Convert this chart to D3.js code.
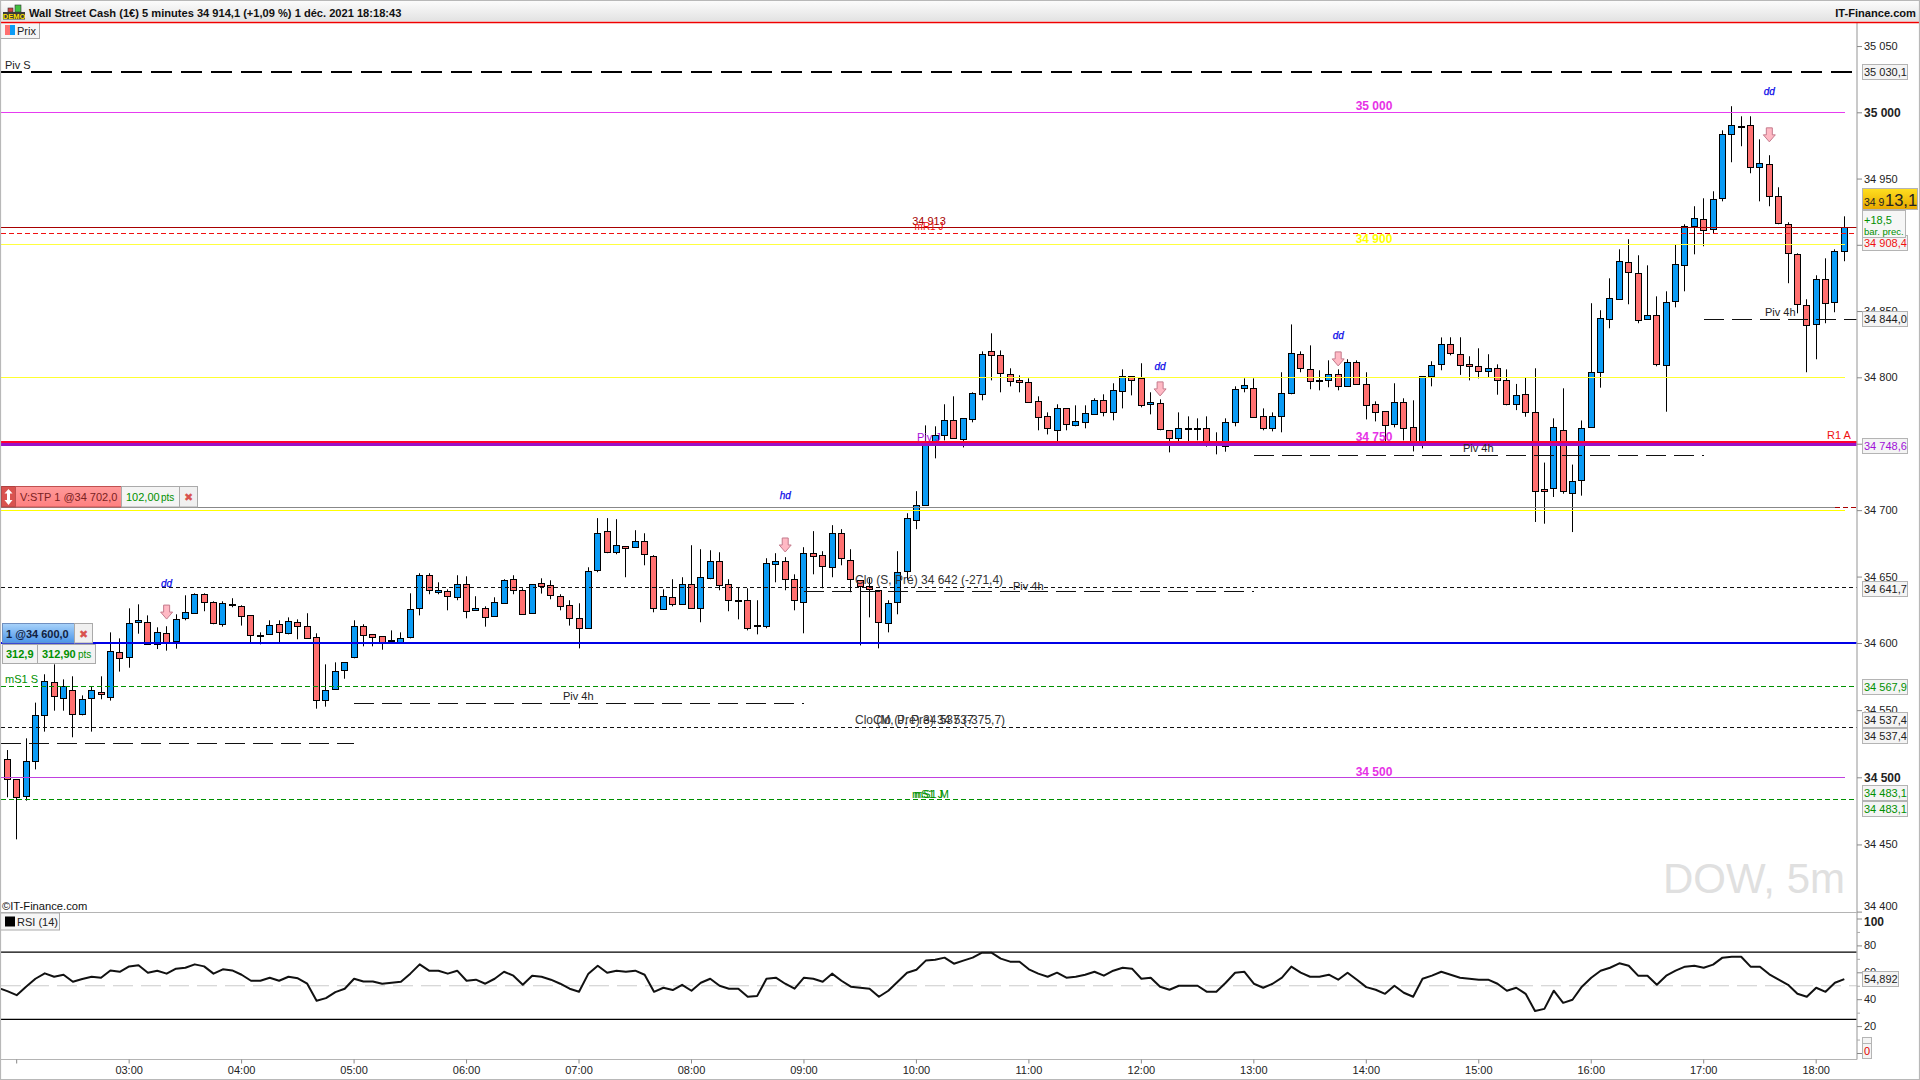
<!DOCTYPE html>
<html lang="fr">
<head>
<meta charset="utf-8">
<title>Wall Street Cash 5 minutes</title>
<script src="https://d3js.org/d3.v7.min.js"></script>
<style>
  body { margin: 0; background: #fff; }
  svg { display: block; }
  text { font-family: "Liberation Sans", Arial, sans-serif; font-size: 11px; fill: #222; }
</style>
</head>
<body>
<div id="chart"></div>
<script>
// candles, one every 5 minutes from 01:55 to 18:15
const open = [
  34513.4,34498.5,34486.1,34511.9,34546.1,34570.7,34558.8,34564.8,34546.9,34558.8,
  34563.3,34559.5,34593.1,34589.3,34615.6,34615.6,34599,34607.3,34601.3,34618.6,
  34622.4,34636.7,34630.6,34614.1,34629.1,34627.6,34620.8,34605.8,34606.5,34614.1,
  34607.3,34615.6,34612.6,34604.3,34557.3,34565.5,34579.6,34589.3,34612.6,34606.5,
  34605,34602,34600.5,34604.3,34626.1,34651,34638.2,34638.9,34634.4,34644.2,
  34624.6,34626.1,34620.1,34629.9,34648,34639.7,34622.4,34645,34643.5,34635.2,
  34628.4,34618.6,34611.1,34654.8,34684.2,34668.3,34672.8,34672.1,34676.6,34665.3,
  34625.4,34634.4,34629.1,34644.2,34626.1,34648.7,34661.5,34644.2,34632.2,34632.2,
  34613.3,34612.6,34659.3,34661.5,34648,34630.6,34667.6,34666.1,34657,34682.6,
  34662.3,34647.2,34642.7,34639.7,34614.8,34630.6,34654,34692.4,34703.5,34750.3,
  34756.3,34767.6,34753.3,34768.3,34787.2,34819.6,34816.6,34802.3,34797.7,34796.2,
  34781.9,34770.6,34760.1,34776.6,34763.8,34766.1,34772.1,34782.7,34773.6,34789.4,
  34800.8,34799.2,34779.7,34780.4,34760.1,34754,34762.1,34762.1,34761.6,34750.3,
  34748,34766.1,34791.7,34791.7,34770.6,34761.6,34770.6,34787.9,34817.3,34806,
  34797.7,34797.7,34802.3,34793.2,34811.3,34794.7,34779.7,34774.4,34764.6,34781.2,
  34762.3,34750.3,34800.8,34809.8,34824.9,34817.4,34809.8,34808.3,34804.5,34806.8,
  34797.7,34779.6,34787.2,34773.6,34716.2,34716.2,34760,34713.2,34722.3,34762.3,
  34803.8,34843.8,34858.9,34886.8,34878.5,34843.8,34846.8,34809.1,34857.4,34884.5,
  34914,34919.3,34911.7,34935.1,34983.4,34989.5,34990.2,34958.5,34960.8,34936.6,
  34915.5,34892.8,34854.3,34840,34874,34856.6,34895.1
];
const high = [
  34520.3,34498.5,34529,34555.6,34576.7,34584.1,34572.9,34575.2,34561,34567.5,
  34575.2,34608,34603.5,34626.1,34629.1,34620.8,34611.8,34612.6,34621.6,34635.9,
  34637.4,34637.4,34631.4,34631.4,34633.7,34628.4,34620.8,34608,34617.1,34617.1,
  34619.3,34617.8,34622.4,34607.3,34584.1,34585.6,34585.6,34617.1,34614.1,34606.5,
  34605,34609.5,34608,34637.4,34652.5,34652.5,34645.7,34640.4,34651,34650.2,
  34635.2,34627.6,34634.4,34648,34651,34641.2,34644.2,34648.7,34647.2,34636.7,
  34632.2,34629.9,34657,34694,34694,34693.2,34672.8,34684.9,34682.6,34666.1,
  34640.4,34648,34649.5,34673.6,34670.6,34669.8,34668.3,34648,34642,34641.2,
  34632.2,34663.8,34667.6,34664.6,34651.7,34672.1,34684.2,34669.1,34688.7,34685.7,
  34670.6,34647.2,34648.7,34639.7,34632.2,34669.1,34697.7,34714.3,34763.8,34763.1,
  34779.7,34785.7,34769.1,34788.7,34819.6,34833.2,34820.3,34806.8,34801.5,34799.2,
  34785.7,34773.6,34779.7,34776.6,34778.9,34778.9,34784.2,34787.2,34795.5,34806,
  34800.8,34810.6,34788.7,34783.4,34760.1,34773.6,34770.6,34769.1,34770.6,34758.6,
  34769.1,34793.2,34799.2,34799.2,34776.6,34773.6,34803.8,34839.9,34819.6,34824.1,
  34805.3,34812.8,34806,34813.6,34812.8,34803.8,34781.9,34774.4,34795.5,34784.2,
  34782.7,34800.8,34812.1,34830.1,34830.2,34830.2,34815.9,34821.9,34817.4,34809.8,
  34806,34795,34800,34806.8,34735.8,34769.1,34791.7,34734.3,34767.5,34855.9,
  34850.6,34874.7,34896.6,34904.2,34892.1,34884.5,34861.1,34864.9,34900.4,34915.5,
  34929.1,34935.1,34940.4,34986.4,35004.6,34997,34997,34979.6,34967.6,34943.4,
  34917,34893.6,34858.9,34877,34889.8,34896.6,34921.5
];
const low = [
  34485.1,34453.8,34482.6,34505.9,34534,34549.6,34549.6,34529.8,34546.1,34534,
  34558.1,34557.1,34578.7,34581.6,34607,34599,34595.5,34594.3,34595.8,34617.1,
  34622.4,34623.9,34614.1,34612.3,34626.9,34613.1,34600.5,34599,34606.5,34600.5,
  34606.5,34602.8,34603.5,34551.1,34552.6,34565.5,34573.4,34588.6,34597.5,34597.5,
  34595,34599.8,34599.8,34603.5,34620.8,34636.7,34636.7,34624.6,34632.2,34618.6,
  34624.6,34612.3,34620.1,34629.9,34636.7,34621.6,34622.4,34637.2,34632.9,34624.6,
  34613.1,34596,34611.1,34653.3,34667.6,34666.8,34649.5,34672.1,34658.5,34623.1,
  34625.4,34627.6,34629.1,34626.1,34615.6,34648,34639.7,34623.9,34617.8,34609.5,
  34606.5,34611.1,34645.7,34639.7,34624.6,34607.3,34651.7,34641.2,34649.5,34658.5,
  34638.2,34598.2,34619.3,34596,34608,34621.6,34647.5,34685.7,34703.5,34739,
  34752.5,34754,34747.2,34766.1,34782.7,34797.7,34788.7,34793.2,34788.7,34781.2,
  34760.1,34757,34750.3,34760.1,34763.1,34761.6,34772.1,34770.6,34767.6,34776.6,
  34786.4,34777.4,34772.1,34760.1,34743.5,34750.3,34750.3,34752.5,34747.8,34742,
  34744,34763.1,34788.7,34769.9,34760.1,34759.3,34758.6,34787.2,34803.8,34791,
  34790.2,34792.5,34790.2,34793.2,34794.7,34768.3,34766.8,34751,34762.3,34752.5,
  34744.2,34746.5,34793.2,34805.3,34816.6,34801.8,34797.7,34799.2,34800,34786.9,
  34778.9,34775.3,34770.3,34691.1,34689.8,34709.9,34712.4,34683.5,34710.9,34762.3,
  34792.2,34837,34858.9,34855.1,34840.8,34843.8,34808.3,34774.1,34852.8,34864.9,
  34892.8,34898.9,34908.7,34932.8,34962.3,34974.4,34954,34932.8,34929.1,34915.5,
  34871,34848.3,34803.8,34813.6,34840.8,34849.1,34887.6
];
const close = [
  34498.5,34485.1,34511.9,34546.1,34571.5,34560.3,34567.7,34546.9,34558.1,34564.8,
  34561.8,34593.8,34588.6,34614.8,34617.1,34599,34608,34600.5,34617.8,34623.1,
  34636.7,34630.6,34614.6,34629.9,34628.4,34620.1,34605.8,34605,34613.3,34608,
  34616.3,34612.6,34603.5,34557.3,34564.8,34578.9,34585.6,34612.6,34605.8,34604.3,
  34600.5,34601.3,34603.5,34625.4,34651,34639.7,34639.7,34635.2,34644.2,34623.9,
  34626.1,34619.3,34630.6,34647.2,34639.7,34621.6,34644.2,34642.7,34635.9,34627.6,
  34618.6,34611.1,34654,34682.6,34668.3,34673.6,34671.3,34676.6,34666.8,34626.1,
  34635.2,34629.1,34644.2,34626.1,34649.5,34661.5,34643.5,34632.2,34632,34611.1,
  34612.6,34660,34661.5,34648,34632.2,34667.6,34665.3,34657.8,34682.6,34663.8,
  34648,34642.7,34640.4,34615.6,34629.9,34653.3,34694,34703.7,34750.3,34756.3,
  34767.6,34754,34769.1,34787.9,34817.3,34816.6,34803,34797,34796.2,34781.2,
  34769.9,34761.6,34776.6,34764.6,34766.8,34772.9,34782.7,34773.6,34790.2,34800.8,
  34797.7,34778.9,34781.2,34760.8,34754,34761.6,34761.6,34761.6,34748.8,34748.8,
  34766.1,34791,34794,34769.9,34761.6,34770.6,34787.9,34818.1,34806.8,34797,
  34797,34802.3,34793.2,34811.3,34794.7,34778.9,34773.6,34763.8,34781.2,34761.6,
  34750.3,34800.8,34809,34824.9,34818.1,34809.1,34808.3,34804.5,34806.8,34797.7,
  34779.6,34786.4,34773.6,34714,34714.7,34762.3,34714,34722.3,34761.5,34803.8,
  34844.5,34859.6,34887.6,34879.3,34843,34846.8,34809.8,34856.6,34885.3,34914,
  34920,34911,34934.4,34983.4,34990.2,34989.3,34958.5,34961.5,34936.6,34916.2,
  34893.6,34855.1,34839.2,34874,34855.9,34895.1,34913.2
];
// first value belongs to the bar just left of the window
const rsi = [
  48.5,
  46,43,49.3,55.2,59.2,56.7,58.2,53,55,56.7,56,61.4,60.4,64.4,65.2,59.7,61.2,59,62.7,63.4,
  65.9,64.4,59,62.2,61.4,58.2,53.7,53.7,56,53.7,56.7,55.5,51.5,38.8,40.8,45.3,47.8,55.2,53.2,53.2,
  51.5,52.2,53,59,65.9,61.2,61.2,59,61.2,53.7,54.5,51.5,55.2,60.4,57.5,50.7,57.5,56.7,54.5,51.5,
  47.8,45.5,59,64.9,59.7,61.2,60.4,61.2,58.2,45.5,48.5,46.8,50.7,46.3,52.2,55.2,50,47.8,47.8,41.8,
  42.3,55.2,56,51.5,47.8,56,55.2,53,59,53.7,49.3,48.5,47.8,41.8,46.3,53,59.7,61.9,68.7,69.4,
  70.9,66.4,68.7,70.9,74.6,74.6,70.2,67.9,67.9,62.2,59,56.7,59.7,56,56.7,58.2,60.4,57.5,61.2,63.4,
  62.7,55.2,56,49.3,47,50,50,50,45.5,45.5,52.2,59.7,60.4,51.5,48.5,51.5,56,64.2,59.7,56.7,
  56.7,58.2,54.5,59.7,54.5,49,47,44,50,44.8,41.8,55.2,57.5,60.4,58.2,56,55.2,54.5,54.5,51.5,
  46.3,48.5,44,31.3,32.8,46.3,37.3,39.6,49.3,56,61.2,63.4,66.7,64.9,57.5,57.5,50.7,57.5,61.2,64.2,
  64.9,63.4,65.7,70.9,71.6,71.6,64.2,64.2,58.5,54.5,50.7,44,41.8,48.5,45.5,52.2,54.9
];

const hourLabels = ["03:00","04:00","05:00","06:00","07:00","08:00","09:00","10:00","11:00","12:00","13:00","14:00","15:00","16:00","17:00","18:00"];
const priceTicks = [35050,35000,34950,34900,34850,34800,34750,34700,34650,34600,34550,34500,34450,34400];
const rsiTicks = [100,80,60,40,20,0];
const rsiMinorTicks = [90,70,50,30,10];

// levels
const pivS = 35030.1, resist1 = 34913, dashedRed = 34908.4, r1A = 34751.5, pivJ = 34749.3;
const stopLevel = 34702, cloS = 34641.7, entry = 34600, ms1S = 34567.9, cloM = 34537.4, ms1M = 34483.1;
const round500 = [35000, 34500];
const round100 = [34900, 34800, 34700];
const piv4hValues = [34525.3, 34555.1, 34638.7, 34741, 34844];
const piv4hBreaks = [37, 85, 133, 181];   // candle index of 05:00, 09:00, 13:00, 17:00
const rsiBands = [75, 25];

// pink arrows and their small tags
const signalIndex = [17, 83, 123, 142, 188];
const signalTips = [34618, 34668.5, 34786, 34808.6, 34977.7];
const signalLabels = ["dd", "hd", "dd", "dd", "dd"];
const signalLabelPrices = [34644.4, 34710.9, 34808, 34831.3, 35015.5];

const width = 1920, height = 1080;
const plotRight = 1857, lineRight = 1845;

const svg = d3.select("#chart").append("svg").attr("width", width).attr("height", height);
const defs = svg.append("defs");
function gradient(id, top, bottom) {
  const g = defs.append("linearGradient").attr("id", id).attr("x1", 0).attr("x2", 0).attr("y1", 0).attr("y2", 1);
  g.append("stop").attr("offset", "0%").attr("stop-color", top);
  g.append("stop").attr("offset", "100%").attr("stop-color", bottom);
}
gradient("barGrad", "#fdfdfd", "#e2e2e2");
gradient("yellowGrad", "#ffdf20", "#e8a800");
gradient("blueGrad", "#a9d3fa", "#4a94e8");
gradient("pinkGrad", "#ff9a9a", "#ff8080");

const fr = d3.formatLocale({ decimal: ",", thousands: " ", grouping: [3], currency: ["", "€"] });
const fmtInt = fr.format(",.0f"), fmt1 = fr.format(",.1f");

const x = d3.scaleLinear().domain([0, 196]).range([7.3, 1844.3]);
const y = d3.scaleLinear().domain([35000, 34800, 34600, 34500, 34400]).range([112.3, 377.3, 643, 777.3, 911.6]);
const yRsi = d3.scaleLinear().domain([0, 100]).range([1053, 918.5]);

// ---- candles
const candles = svg.append("g").selectAll("g").data(d3.range(open.length)).join("g")
  .attr("transform", i => `translate(${Math.floor(x(i)) + 0.5},0)`);
candles.append("line")
  .attr("y1", i => y(high[i])).attr("y2", i => y(low[i]))
  .attr("stroke", "#000").attr("stroke-width", 1);
candles.append("rect")
  .attr("x", -3).attr("width", 6)
  .attr("y", i => Math.round(y(Math.max(open[i], close[i]))) + 0.5)
  .attr("height", i => Math.max(1, Math.round(Math.abs(y(open[i]) - y(close[i])))))
  .attr("fill", i => close[i] >= open[i] ? "#0a9bf5" : "#ff7070")
  .attr("stroke", "#000").attr("stroke-width", 1)
  .attr("shape-rendering", "crispEdges");

// ---- horizontal levels
function level(value, color, sw, dash, x1, x2) {
  // keep the thin lines on the pixel grid, as in the original
  const py = sw % 2 ? Math.floor(y(value)) + 0.5 : Math.round(y(value));
  svg.append("line").attr("x1", x1 === undefined ? 1 : x1).attr("x2", x2 === undefined ? plotRight : x2)
    .attr("y1", py).attr("y2", py)
    .attr("stroke", color).attr("stroke-width", sw)
    .attr("stroke-dasharray", dash || null)
    .attr("shape-rendering", "crispEdges");
}
level(pivS, "#000", 2, "21 9");
level(round500[0], "#e63cf0", 1, null, 1, lineRight);
level(resist1, "#a80000", 1);
level(dashedRed, "#f01010", 1, "5 3");
level(round100[0], "#ffff40", 1, null, 1, lineRight);
level(round100[1], "#ffff30", 1, null, 1, lineRight);
level(r1A, "#ff0030", 2);
level(pivJ, "#9a10c8", 3);
level(stopLevel, "#888", 1, null, 1, 1835);
level(stopLevel, "#a80000", 1, "5 3", 1835, plotRight);
level(round100[2], "#ffff00", 1, null, 1, lineRight);
level(cloS, "#111", 1, "4 3");
level(entry, "#0000e6", 2);
level(ms1S, "#009000", 1, "5 3");
level(cloM, "#111", 1, "4 3");
level(round500[1], "#c040e0", 1, null, 1, lineRight);
level(ms1M, "#009000", 1, "5 3");

// four hour pivots, each runs from one break to the next
const piv4hStart = [0].concat(piv4hBreaks);
piv4hValues.forEach((v, k) => {
  const x1 = k === 0 ? 1 : x(piv4hStart[k]);
  const x2 = k === piv4hValues.length - 1 ? plotRight : x(piv4hBreaks[k]);
  level(v, "#111", 1, "20 8", x1, x2);
});

// ---- signals
const arrowPath = "M-3,-14 L3,-14 L3,-7 L6,-7 L0,0 L-6,-7 L-3,-7 Z";
signalIndex.forEach((idx, k) => {
  svg.append("path").attr("d", arrowPath)
    .attr("transform", `translate(${x(idx)},${y(signalTips[k])})`)
    .attr("fill", "#ffb9c4").attr("stroke", "#c47a8c").attr("stroke-width", 1);
  svg.append("text").attr("x", x(idx)).attr("y", y(signalLabelPrices[k]) + 3)
    .attr("text-anchor", "middle").style("font-size", "10px").style("font-style", "italic")
    .style("fill", "#0808e8").style("stroke", "#0808e8").style("stroke-width", 0.25).text(signalLabels[k]);
});

// ---- text tags on the levels
function label(px, py, str, color, opts) {
  opts = opts || {};
  return svg.append("text").attr("x", px).attr("y", py)
    .attr("text-anchor", opts.anchor || "start")
    .style("fill", color || "#222")
    .style("font-size", (opts.size || 11) + "px")
    .style("font-weight", opts.bold ? "bold" : "normal")
    .text(str);
}
label(5, y(pivS) - 3, "Piv S");
label(1374, y(35000) - 2, fmtInt(35000), "#e632e6", { anchor: "middle", bold: true, size: 12 });
label(929, y(resist1) - 3, fmtInt(resist1), "#a80000", { anchor: "middle" });
label(929, y(resist1) + 2, "mR1 J", "#f01010", { anchor: "middle", size: 10 });
label(1374, y(34900) - 2, fmtInt(34900), "#ffff00", { anchor: "middle", bold: true, size: 12 });
label(917, y(r1A) - 1, "Piv J", "#a810d8");
label(1374, y(34750) - 3, fmtInt(34750), "#e632e6", { anchor: "middle", bold: true, size: 12 });
label(1827, 439, "R1  A", "#f01010");
label(855, 584, "Clo (S, Pré) 34 642 (-271,4)", "#333", { size: 12 });
label(1013, 590, "Piv 4h");
label(563, 700, "Piv 4h");
label(1463, 452, "Piv 4h");
label(1765, 316, "Piv 4h");
label(5, 683, "mS1 S", "#009000");
label(855, 724, "Clo (M, Pré) 34 537 (-375,7)", "#333", { size: 12 });
label(873, 724, "Clo (J, Pré) 34 537", "#333", { size: 12 });
label(1374, y(34500) - 1, fmtInt(34500), "#e632e6", { anchor: "middle", bold: true, size: 12 });
label(912, 798, "mS1 J", "#009000");
label(914, 798, "mS1 M", "#009000");
label(2, 910, "©IT-Finance.com", "#111", { size: 11.2 });
label(1845, 893, "DOW, 5m", "#e0e0e0", { anchor: "end", size: 42 });

// ---- rsi panel
rsiBands.forEach(v => {
  svg.append("line").attr("x1", 1).attr("x2", plotRight).attr("y1", yRsi(v)).attr("y2", yRsi(v))
    .attr("stroke", "#000").attr("stroke-width", 1.4);
});
svg.append("line").attr("x1", 1).attr("x2", plotRight).attr("y1", yRsi(50)).attr("y2", yRsi(50))
  .attr("stroke", "#ccc").attr("stroke-width", 1.2).attr("stroke-dasharray", "20 8");
svg.append("path").datum(rsi)
  .attr("d", d3.line().x((d, i) => x(i - 1)).y(d => yRsi(d)))
  .attr("fill", "none").attr("stroke", "#111").attr("stroke-width", 2).attr("stroke-linejoin", "round");

// ---- frame and separators
function rule(x1, y1, x2, y2, color, sw) {
  svg.append("line").attr("x1", x1).attr("y1", y1).attr("x2", x2).attr("y2", y2)
    .attr("stroke", color || "#b4b4b4").attr("stroke-width", sw || 1.2);
}
rule(1, 912.5, plotRight, 912.5);
rule(1, 1059.5, plotRight, 1059.5);
rule(plotRight, 22, plotRight, 1059.5, "#b4b4b4", 1.4);

// ---- axes
const priceAxis = d3.axisRight(y).tickValues(priceTicks).tickSize(5).tickPadding(2)
  .tickFormat(fmtInt);
const pa = svg.append("g").attr("transform", `translate(${plotRight},0)`).call(priceAxis);
pa.select(".domain").remove();
pa.selectAll("line").attr("stroke", "#888");
pa.selectAll("text").style("fill", "#222")
  .style("font-weight", d => round500.includes(d) ? "bold" : "normal")
  .style("font-size", d => round500.includes(d) ? "12px" : "11px");
pa.selectAll(".tick").filter(d => d === 34400).select("text").attr("dy", "-0.2em");

const rsiAxis = d3.axisRight(yRsi).tickValues(rsiTicks).tickSize(5).tickPadding(2);
const ra = svg.append("g").attr("transform", `translate(${plotRight},0)`).call(rsiAxis);
ra.select(".domain").remove();
ra.selectAll("line").attr("stroke", "#888");
ra.selectAll("text").style("fill", d => d === 0 ? "#e00000" : "#222")
  .style("font-weight", d => d === 100 ? "bold" : "normal")
  .style("font-size", d => d === 100 ? "12px" : "11px");
ra.selectAll(".tick").filter(d => d === 100).select("text").attr("dy", "0.6em");
const rm = svg.append("g").attr("transform", `translate(${plotRight},0)`)
  .call(d3.axisRight(yRsi).tickValues(rsiMinorTicks).tickSize(3).tickFormat(""));
rm.select(".domain").remove();
rm.selectAll("line").attr("stroke", "#aaa");

// hour ticks: first candle on the hour is 02:00 (index 1), and it has no label
const hourIndex = d3.range(1, open.length, 12);
const timeAxis = d3.axisBottom(x).tickValues(hourIndex).tickSize(4).tickPadding(3)
  .tickFormat((d, i) => i === 0 ? "" : hourLabels[i - 1]);
const ta = svg.append("g").attr("transform", "translate(-0.5,1059.5)").call(timeAxis);
ta.select(".domain").remove();
ta.selectAll("line").attr("stroke", "#888");
ta.selectAll("text").style("fill", "#222").style("font-size", "11px");

// ---- value boxes on the right
function valueBox(cy, str, color, w) {
  svg.append("rect").attr("x", 1862.5).attr("y", Math.round(cy) - 7.5).attr("width", w || 45).attr("height", 15)
    .attr("fill", "#f4f4f4").attr("stroke", "#b4b4b4");
  label(1864, Math.round(cy) + 4, str, color || "#222");
}
const boxGreen = "#009000";
valueBox(y(pivS), fmt1(pivS));
valueBox(y(dashedRed) + 9, fmt1(dashedRed), "#f01010");
valueBox(319, fmt1(34844));
valueBox(446, fmt1(34748.6), "#a010d8");
valueBox(589, fmt1(cloS));
valueBox(687, fmt1(ms1S), boxGreen);
valueBox(720, fmt1(cloM));
valueBox(736, fmt1(cloM));
valueBox(793, fmt1(ms1M), boxGreen);
valueBox(809, fmt1(ms1M), boxGreen);
valueBox(yRsi(54.892), "54,892", "#222", 36);

svg.append("rect").attr("x", 1862.5).attr("y", 1037.5).attr("width", 9).attr("height", 7)
  .attr("fill", "#f4f4f4").attr("stroke", "#b4b4b4");
svg.append("rect").attr("x", 1862.5).attr("y", 1043.5).attr("width", 9).attr("height", 15)
  .attr("fill", "#f4f4f4").attr("stroke", "#b4b4b4");
label(1864, 1055, "0", "#e00000");

// current price tag
svg.append("rect").attr("x", 1862.5).attr("y", 210.5).attr("width", 43).attr("height", 27)
  .attr("fill", "#f6f6f6").attr("stroke", "#b4b4b4");
label(1864, 224, "+18,5", "#009000");
label(1864, 235, "bar. prec.", "#009000", { size: 9.5 });
svg.append("rect").attr("x", 1862.5).attr("y", 188.5).attr("width", 55).attr("height", 21)
  .attr("fill", "url(#yellowGrad)").attr("stroke", "#b4b4b4");
label(1864, 206, "34 9", "#222", { size: 10.5 });
label(1885, 206, "13,1", "#222", { size: 16.5 });

// ---- order tags on the left
function box(px, py, w, h, fill, stroke) {
  svg.append("rect").attr("x", px).attr("y", py).attr("width", w).attr("height", h)
    .attr("fill", fill).attr("stroke", stroke || "#aaa");
}
box(1.5, 486.5, 14, 20.5, "#d9534f", "#b04040");
box(15.5, 486.5, 106, 20.5, "url(#pinkGrad)", "#c05050");
box(121.5, 486.5, 58, 20.5, "#f4f4f4");
box(179.5, 486.5, 18, 20.5, "#f0f0f0");
// white up and down arrow of the drag handle
svg.append("path").attr("d", "M8.5,489 L12.5,493.5 L10,493.5 L10,500 L12.5,500 L8.5,505 L4.5,500 L7,500 L7,493.5 L4.5,493.5 Z")
  .attr("fill", "#fff");
label(20, 501, "V:STP  1 @34 702,0", "#7a2222");
label(126, 501, "102,00", "#009000");
label(161, 501, "pts", "#009000", { size: 10 });
svg.append("text").attr("x", 188.5).attr("y", 501).attr("text-anchor", "middle")
  .style("font-family", "DejaVu Sans").style("font-size", "11px").style("fill", "#d9534f").text("✖");

box(2.5, 623.5, 72, 19.5, "url(#blueGrad)", "#7090c0");
box(74.5, 623.5, 18, 19.5, "#f0f0f0");
label(6, 638, "1 @34 600,0", "#102040", { bold: true });
svg.append("text").attr("x", 83.5).attr("y", 638).attr("text-anchor", "middle")
  .style("font-family", "DejaVu Sans").style("font-size", "11px").style("fill", "#d9534f").text("✖");
box(2.5, 644.5, 35, 19, "#f2f2f2");
box(37.5, 644.5, 58, 19, "#f2f2f2");
label(6, 658, "312,9", "#009000", { bold: true });
label(42, 658, "312,90", "#009000", { bold: true });
label(78, 658, "pts", "#009000", { size: 10 });

// ---- legend boxes
box(0.5, 22.5, 39, 16, "#f6f6f6");
svg.append("rect").attr("x", 5).attr("y", 25).attr("width", 5).attr("height", 10).attr("fill", "#ff6f6f");
svg.append("rect").attr("x", 10).attr("y", 25).attr("width", 5).attr("height", 10).attr("fill", "#0a9bf5");
label(17, 35, "Prix");
box(0.5, 913, 59, 17, "#f6f6f6");
svg.append("rect").attr("x", 5).attr("y", 916.5).attr("width", 10).attr("height", 10).attr("fill", "#000");
label(17, 926, "RSI (14)");

// ---- title bar and window edges
svg.append("rect").attr("x", 0).attr("y", 0).attr("width", width).attr("height", 21.5).attr("fill", "url(#barGrad)");
rule(0, 0.5, width, 0.5, "#b8b8b8");
rule(0, 22.5, width, 22.5, "#f00000", 1.6);
rule(0.5, 0, 0.5, height, "#b8b8b8");
rule(1919.5, 0, 1919.5, height, "#b8b8b8");
rule(0, 1079.5, width, 1079.5, "#b8b8b8");

// demo icon
svg.append("rect").attr("x", 8).attr("y", 8).attr("width", 5).attr("height", 4).attr("fill", "#d04040").attr("stroke", "#333").attr("stroke-width", 0.6);
svg.append("rect").attr("x", 15).attr("y", 5).attr("width", 6).attr("height", 7).attr("fill", "#40c040").attr("stroke", "#333").attr("stroke-width", 0.6);
svg.append("rect").attr("x", 3).attr("y", 12).attr("width", 22).attr("height", 7.5).attr("fill", "#3a3a3a");
label(14, 19, "DEMO", "#ffe000", { anchor: "middle", bold: true, size: 7.5 });

label(29, 17, "Wall Street Cash (1€) 5 minutes 34 914,1 (+1,09 %) 1 déc. 2021 18:18:43", "#111", { bold: true, size: 11.1 });
label(1916, 17, "IT-Finance.com", "#111", { anchor: "end", bold: true, size: 11.1 });
</script>
</body>
</html>
